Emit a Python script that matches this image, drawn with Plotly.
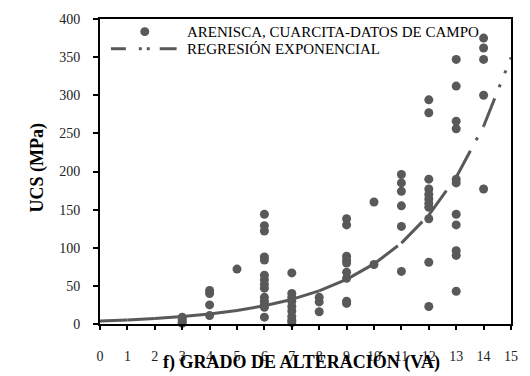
import numpy as np
import plotly.graph_objects as go

# ---- data ----
ucs_g3 = [9, 6, 3, 1]
ucs_g4 = [44, 40, 25, 11]
ucs_g5 = [72]
ucs_g6 = [144, 129, 122, 88, 84, 64, 58, 52, 47, 35, 30, 26, 22, 9]
ucs_g7 = [67, 40, 35, 30, 23, 17, 10, 5, 2]
ucs_g8 = [35, 29, 16]
ucs_g9 = [138, 130, 89, 84, 80, 68, 60, 30, 27]
ucs_g10 = [160, 78]
ucs_g11 = [196, 185, 174, 155, 128, 69]
ucs_g12 = [294, 277, 190, 177, 170, 164, 158, 153, 138, 81, 23]
ucs_g13 = [347, 312, 266, 256, 190, 185, 144, 130, 96, 90, 43]
ucs_g14 = [375, 362, 347, 300, 177]
grades = [3, 4, 5, 6, 7, 8, 9, 10, 11, 12, 13, 14]
ucs_by_grade = [ucs_g3, ucs_g4, ucs_g5, ucs_g6, ucs_g7, ucs_g8, ucs_g9,
                ucs_g10, ucs_g11, ucs_g12, ucs_g13, ucs_g14]

# exponential regression UCS = a*exp(b*VA), parameters
reg_a = 4.0
reg_b = 0.298
reg_x = [0, 1, 2, 3, 4, 5, 6, 7, 8, 9, 10, 11, 12, 13, 14, 15]

x_ticks = list(range(0, 16))
y_ticks = list(range(0, 401, 50))

legend_pts = "ARENISCA, CUARCITA-DATOS DE CAMPO"
legend_reg = "REGRESIÓN EXPONENCIAL"
x_title = "f) GRADO DE ALTERACIÓN (VA)"
y_title = "UCS (MPa)"

# ---- build traces ----
pts_x, pts_y = [], []
for g, vals in zip(grades, ucs_by_grade):
    for v in vals:
        pts_x.append(g)
        pts_y.append(v)

# trendline drawn as polyline pieces (dash pattern restarts at each vertex)
seg_x, seg_y = [], []
for i in range(len(reg_x) - 1):
    x0, x1 = reg_x[i], reg_x[i + 1]
    seg_x += [x0, x1, None]
    seg_y += [reg_a * np.exp(reg_b * x0), reg_a * np.exp(reg_b * x1), None]

GRAY = "#595959"
FONT = "Liberation Serif"

fig = go.Figure()
fig.add_trace(go.Scatter(x=seg_x, y=seg_y, mode="lines", connectgaps=False,
                         line=dict(color=GRAY, width=3,
                                   dash="30px,12px,3px,12px,3px,12px"),
                         showlegend=False, hoverinfo="skip", cliponaxis=True))
fig.add_trace(go.Scatter(x=pts_x, y=pts_y, mode="markers",
                         marker=dict(color=GRAY, size=9, line=dict(width=0)),
                         showlegend=False, cliponaxis=False))

W, H = 530, 376
L, R, T, B = 100, 17, 12, 51
pw, ph = W - L - R, H - T - B


def px(xp):
    return (xp - L) / pw


def py(yp):
    return (H - B - yp) / ph


shapes = []
# legend marker
shapes.append(dict(type="circle", xref="paper", yref="paper",
                   x0=px(140.5), x1=px(149.5), y0=py(29.5), y1=py(20.5),
                   fillcolor=GRAY, line=dict(width=0)))
# legend line sample: dash, dot, dot, dash
for a, b in [(111, 126), (139, 142), (147, 150), (160, 177)]:
    shapes.append(dict(type="line", xref="paper", yref="paper",
                       x0=px(a), x1=px(b), y0=py(42.5), y1=py(42.5),
                       line=dict(color=GRAY, width=3)))

annotations = [
    dict(text=legend_pts, xref="paper", yref="paper", x=px(185), y=py(25),
         xanchor="left", yanchor="middle", showarrow=False,
         font=dict(family=FONT, size=15, color="black")),
    dict(text=legend_reg, xref="paper", yref="paper", x=px(185), y=py(43),
         xanchor="left", yanchor="middle", showarrow=False,
         font=dict(family=FONT, size=15, color="black")),
    dict(text="<b>" + x_title + "</b>", xref="paper", yref="paper",
         x=px(302), y=py(364), xanchor="center", yanchor="middle",
         showarrow=False, font=dict(family=FONT, size=18, color="black")),
    dict(text="<b>" + y_title + "</b>", xref="paper", yref="paper",
         x=px(37), y=py(165), xanchor="center", yanchor="middle",
         textangle=-90, showarrow=False,
         font=dict(family=FONT, size=18, color="black")),
]

fig.update_layout(
    width=W, height=H,
    margin=dict(l=L, r=R, t=T, b=B, pad=0),
    paper_bgcolor="white", plot_bgcolor="white",
    showlegend=False,
    shapes=shapes, annotations=annotations,
    xaxis=dict(range=[0, 15], tickvals=x_ticks, ticks="outside", ticklen=4,
               tickwidth=1.5, tickcolor="black",
               showline=True, linecolor="black", linewidth=2, mirror=True,
               showgrid=False, zeroline=False, ticklabelstandoff=14,
               tickfont=dict(family=FONT, size=14, color="#222")),
    yaxis=dict(range=[0, 400], tickvals=y_ticks, ticks="outside", ticklen=5,
               tickwidth=1.5, tickcolor="black",
               showline=True, linecolor="black", linewidth=2, mirror=True,
               showgrid=False, zeroline=False, ticklabelstandoff=10,
               tickfont=dict(family=FONT, size=14, color="#222")),
)

fig.write_html("out.html")
